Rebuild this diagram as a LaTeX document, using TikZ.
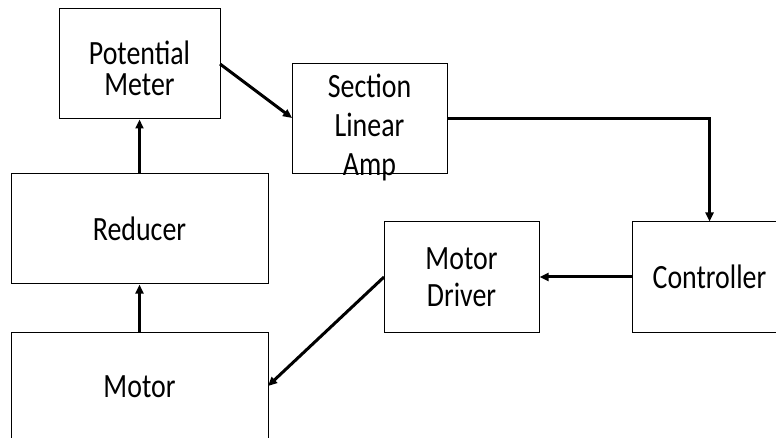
\documentclass[tikz,border=0pt]{standalone}
\usepackage{fontspec}
\setmainfont{Carlito}[FakeStretch=0.82]
\usetikzlibrary{arrows.meta}
\begin{document}
\begin{tikzpicture}[x=1pt,y=-1pt,
  blk/.style={draw=black,line width=1pt,rectangle,inner sep=0pt,align=center,
    font=\fontsize{34}{31}\selectfont},
  txt/.style={inner sep=0pt,align=center,font=\fontsize{34}{31}\selectfont},
  conn/.style={line width=3pt,-{Triangle[length=9pt,width=8pt]}}]
\useasboundingbox (0,0) rectangle (776,438);
\clip (0,0) rectangle (776,438);
\fill[white] (0,0) rectangle (776,438);
\node[blk,minimum width=161pt,minimum height=110pt] (pm) at (139.5,64) {};
\node[txt] (pmt) at (139.5,68) {Potential\\Meter};
\node[blk,minimum width=155pt,minimum height=110pt] (amp) at (369.5,119) {};
\node[txt,font=\fontsize{34}{39}\selectfont] (ampt) at (369.5,127) {Section\\Linear\\Amp};
\node[blk,minimum width=257pt,minimum height=110pt] (red) at (139.5,229) {Reducer};
\node[blk,minimum width=257pt,minimum height=110pt] (mot) at (139.5,387) {Motor};
\node[blk,minimum width=155pt,minimum height=110pt,font=\fontsize{34}{37}\selectfont] (drv) at (461.5,277) {Motor\\Driver};
\node[blk,minimum width=155pt,minimum height=110pt] (ctl) at (709.5,277) {Controller};
\coordinate (pmr) at (220,64);
\coordinate (ampl) at (292,118);
\coordinate (drvl) at (384,277);
\coordinate (motr) at (268,386);
\draw[conn] (red.north) -- (pm.south);
\draw[conn] (mot.north) -- (red.south);
\draw[conn] (pmr) -- (ampl);
\draw[conn] (amp.east) -| (ctl.north);
\draw[conn] (ctl.west) -- (drv.east);
\draw[conn] (drvl) -- (motr);
\end{tikzpicture}
\end{document}
